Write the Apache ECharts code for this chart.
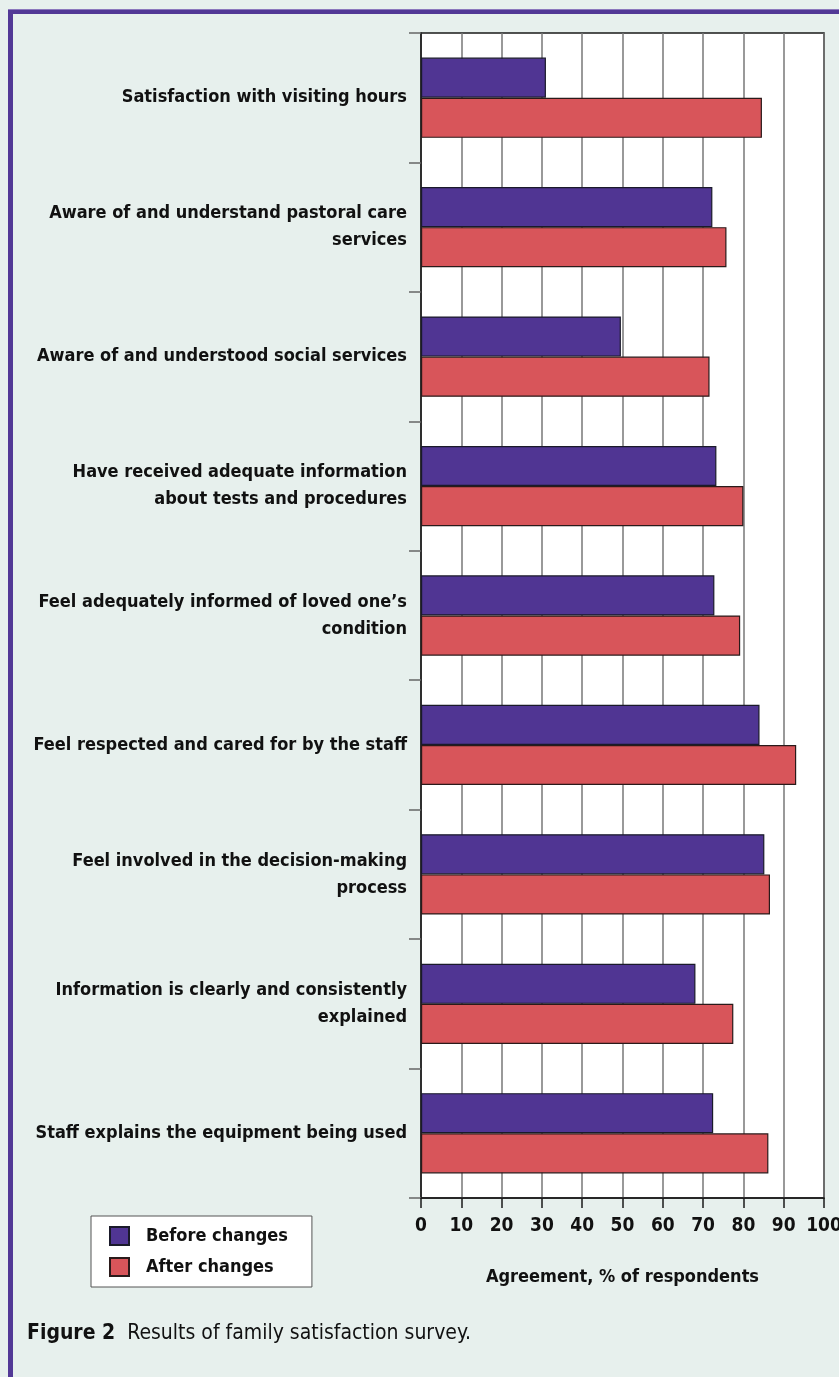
<!DOCTYPE html>
<html>
<head>
<meta charset="utf-8">
<script src="https://cdn.jsdelivr.net/npm/echarts@6/dist/echarts.min.js"></script>
<style>
  html, body { margin: 0; padding: 0; background: #e7f0ed; }
  #chart { width: 839px; height: 1377px; }
</style>
</head>
<body>
<div id="chart"></div>
<script>
const categories = [
  "Satisfaction with visiting hours",
  "Aware of and understand pastoral care\nservices",
  "Aware of and understood social services",
  "Have received adequate information\nabout tests and procedures",
  "Feel adequately informed of loved one\u2019s\ncondition",
  "Feel respected and cared for by the staff",
  "Feel involved in the decision-making\nprocess",
  "Information is clearly and consistently\nexplained",
  "Staff explains the equipment being used"
];
const beforeValues = [31, 72.3, 49.6, 73.3, 72.8, 84.0, 85.2, 68.1, 72.5];
const afterValues  = [84.6, 75.8, 71.6, 80.0, 79.2, 93.1, 86.6, 77.5, 86.2];
const seriesNames = ["Before changes", "After changes"];
const xTicks = { min: 0, max: 100, interval: 10 };
const xAxisTitle = "Agreement, % of respondents";
const captionBold = "Figure 2";
const captionText = "Results of family satisfaction survey.";

const FONT = '"Liberation Sans Narrow", "DejaVu Sans Condensed", "Arial Narrow", sans-serif';
const PURPLE = '#503593';
const RED = '#d8555a';

const chart = echarts.init(document.getElementById('chart'), null, { renderer: 'canvas' });
chart.setOption({
  backgroundColor: '#e7f0ed',
  animation: false,
  grid: {
    left: 421, right: 15, top: 33, bottom: 179,
    containLabel: false, outerBoundsMode: 'none',
    show: true, backgroundColor: '#ffffff', borderColor: '#1a1a1a', borderWidth: 1.5
  },
  legend: {
    orient: 'vertical',
    left: 91, top: 1216,
    padding: [10, 24, 10, 18],
    backgroundColor: '#ffffff',
    borderColor: '#555', borderWidth: 1,
    itemWidth: 19, itemHeight: 18, itemGap: 11,
    icon: 'rect',
    textStyle: { fontFamily: FONT, fontWeight: 'bold', fontSize: 18, color: '#111', padding: [0, 0, 0, 12] },
    data: seriesNames
  },
  xAxis: {
    type: 'value',
    min: xTicks.min, max: xTicks.max, interval: xTicks.interval,
    name: xAxisTitle,
    nameLocation: 'middle',
    nameGap: 70,
    nameTextStyle: { fontFamily: FONT, fontWeight: 'bold', fontSize: 18, color: '#111' },
    axisLine: { show: true, lineStyle: { color: '#1a1a1a', width: 1.5 } },
    axisTick: { show: true, length: 10, lineStyle: { color: '#1a1a1a', width: 1.5 } },
    axisLabel: { fontFamily: FONT, fontWeight: 'bold', fontSize: 19, color: '#111', margin: 19 },
    splitLine: { show: true, lineStyle: { color: '#777', width: 1.5 } }
  },
  yAxis: {
    type: 'category',
    inverse: true,
    data: categories,
    axisLine: { show: true, lineStyle: { color: '#1a1a1a', width: 1.5 } },
    axisTick: { show: true, length: 12, lineStyle: { color: '#666', width: 1.5 } },
    axisLabel: {
      fontFamily: FONT, fontWeight: 'bold', fontSize: 18, color: '#111',
      margin: 14, lineHeight: 27, align: 'right'
    },
    splitLine: { show: false }
  },
  series: [
    {
      name: seriesNames[0], type: 'bar', data: beforeValues,
      barGap: '0%', barCategoryGap: '38%',
      itemStyle: { color: PURPLE, borderColor: '#1a1a2a', borderWidth: 1.2 }
    },
    {
      name: seriesNames[1], type: 'bar', data: afterValues,
      barGap: '0%', barCategoryGap: '38%',
      itemStyle: { color: RED, borderColor: '#2a1a1a', borderWidth: 1.2 }
    }
  ],
  graphic: [
    { type: 'rect', shape: { x: 8, y: 9, width: 831, height: 5 }, style: { fill: '#523996' }, silent: true },
    { type: 'rect', shape: { x: 8, y: 9, width: 5, height: 1368 }, style: { fill: '#523996' }, silent: true },
    { type: 'rect', shape: { x: 8, y: 9, width: 831, height: 1 }, style: { fill: '#8c78bd' }, silent: true },
    {
      type: 'text', left: 27, top: 1323,
      style: {
        text: '{b|' + captionBold + '}  ' + captionText,
        fontFamily: FONT, fontSize: 21, fill: '#111',
        rich: { b: { fontFamily: FONT, fontSize: 21, fontWeight: 'bold', fill: '#111' } }
      }
    }
  ]
});
</script>
</body>
</html>
